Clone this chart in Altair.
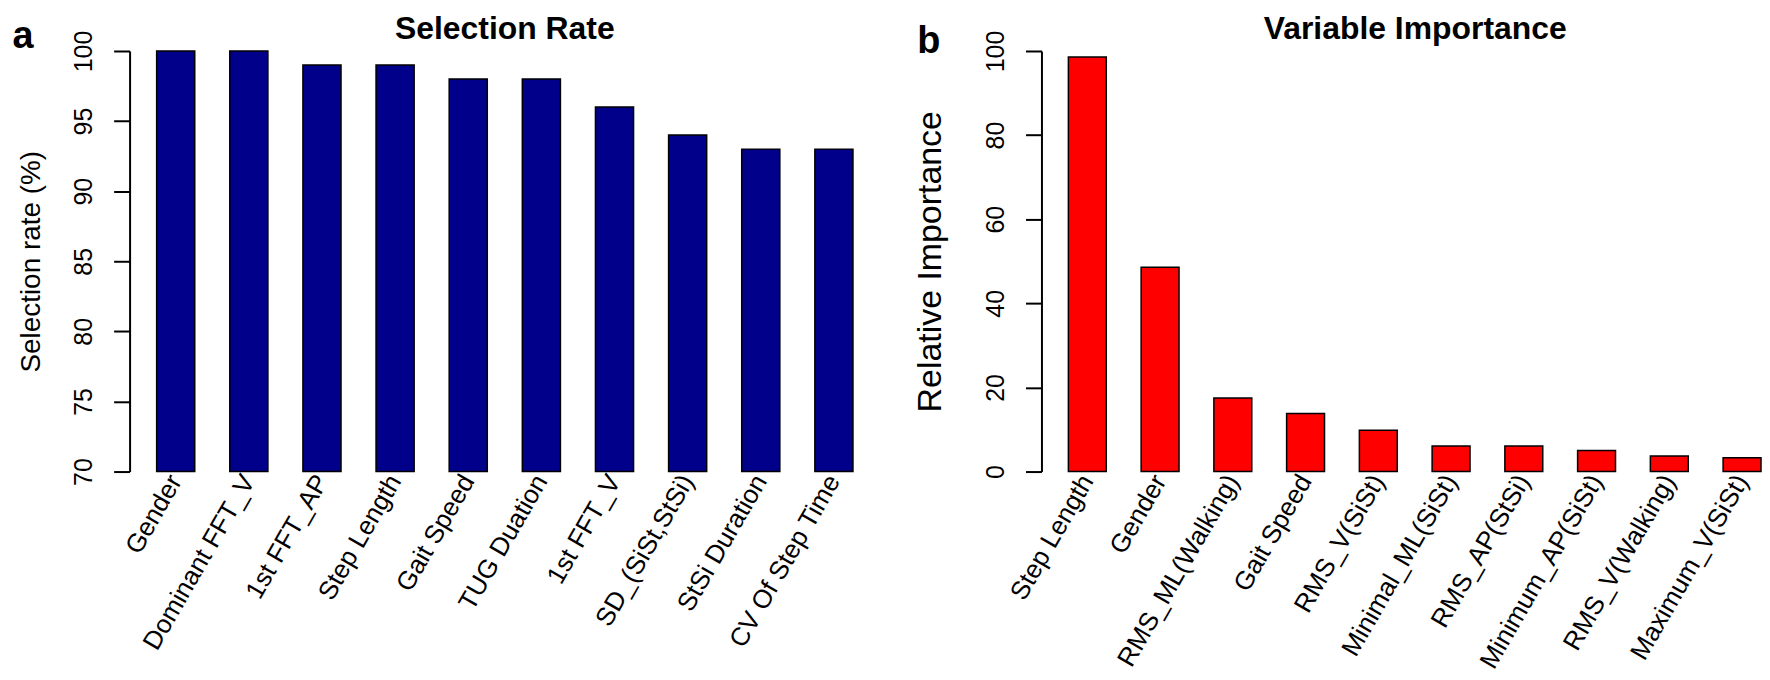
import altair as alt
import pandas as pd

# ---- data ----
cats_a = ["Gender", "Dominant FFT_V", "1st FFT_AP", "Step Length", "Gait Speed",
          "TUG Duation", "1st FFT_V", "SD_(SiSt,StSi)", "StSi Duration", "CV Of Step Time"]
vals_a = [100, 100, 99, 99, 98, 98, 96, 94, 93, 93]

cats_b = ["Step Length", "Gender", "RMS_ML(Walking)", "Gait Speed", "RMS_V(SiSt)",
          "Minimal_ML(SiSt)", "RMS_AP(StSi)", "Minimum_AP(SiSt)", "RMS_V(Walking)", "Maximum_V(SiSt)"]
vals_b = [98.6, 48.6, 17.5, 13.8, 9.8, 6.1, 6.1, 5.0, 3.7, 3.3]

ticks_a = [70, 75, 80, 85, 90, 95, 100]
ticks_b = [0, 20, 40, 60, 80, 100]

FONT = "Liberation Sans"
W_A, W_B, H = 753, 722, 422

df_a = pd.DataFrame({"feature": cats_a, "rate": vals_a})
df_b = pd.DataFrame({"feature": cats_b, "imp": vals_b})


def x_axis():
    return alt.Axis(labelAngle=300, labelAlign="right", labelBaseline="middle",
                    labelPadding=5, labelFontSize=26, labelFont=FONT, labelColor="black",
                    ticks=False, domain=False, labelLimit=600, labelOverlap=False, title=None)


def y_axis(vals, title, title_size, title_x):
    return alt.Axis(values=vals, title=title, titleFontSize=title_size, titleFont=FONT,
                    titleFontWeight="normal", titleColor="black", titleAngle=270,
                    titleAlign="center", titleBaseline="alphabetic",
                    titleX=title_x, titleY=H / 2,
                    labelFontSize=25, labelFont=FONT, labelColor="black", labelAngle=270,
                    labelAlign="center", labelBaseline="alphabetic", labelPadding=22,
                    tickSize=16, tickWidth=2, tickColor="black",
                    domainWidth=2, domainColor="black", grid=False, labelFlush=False)


bars_a = alt.Chart(df_a).mark_bar(color="#00008B", stroke="black", strokeWidth=1.5).encode(
    x=alt.X("feature:N", sort=cats_a, axis=x_axis(),
            scale=alt.Scale(paddingInner=0.479, paddingOuter=0.37)),
    y=alt.Y("rate:Q", scale=alt.Scale(domain=[70, 100], zero=False, nice=False),
            axis=y_axis(ticks_a, "Selection rate (%)", 28, -90)),
    y2=alt.datum(70),
)

lab_a = alt.Chart(pd.DataFrame({"t": ["a"]})).mark_text(
    text="a", fontSize=38, fontWeight="bold", font=FONT, color="black",
    align="center", baseline="alphabetic").encode(x=alt.value(-107), y=alt.value(-3))

ttl_a = alt.Chart(pd.DataFrame({"t": ["Selection Rate"]})).mark_text(
    text="Selection Rate", fontSize=32, fontWeight="bold", font=FONT, color="black",
    align="center", baseline="alphabetic").encode(x=alt.value(W_A / 2), y=alt.value(-12))

panel_a = alt.layer(bars_a, lab_a, ttl_a).properties(width=W_A, height=H)

bars_b = alt.Chart(df_b).mark_bar(color="#FF0000", stroke="black", strokeWidth=1.5).encode(
    x=alt.X("feature:N", sort=cats_b, axis=x_axis(),
            scale=alt.Scale(paddingInner=0.479, paddingOuter=0.185, align=1)),
    y=alt.Y("imp:Q", scale=alt.Scale(domain=[0, 100], nice=False),
            axis=y_axis(ticks_b, "Relative Importance", 34, -101)),
)

lab_b = alt.Chart(pd.DataFrame({"t": ["b"]})).mark_text(
    text="b", fontSize=38, fontWeight="bold", font=FONT, color="black",
    align="center", baseline="alphabetic").encode(x=alt.value(-113), y=alt.value(2))

ttl_b = alt.Chart(pd.DataFrame({"t": ["Variable Importance"]})).mark_text(
    text="Variable Importance", fontSize=32, fontWeight="bold", font=FONT, color="black",
    align="center", baseline="alphabetic").encode(x=alt.value(375), y=alt.value(-12))

panel_b = alt.layer(bars_b, lab_b, ttl_b).properties(width=W_B, height=H)

chart = alt.hconcat(panel_a, panel_b, spacing=162, bounds="flush").properties(
    padding={"left": 4, "top": 4, "right": 0, "bottom": 0},
    background="white",
).configure_view(strokeWidth=0, stroke="transparent")

chart.save("out.html", embed_options={"renderer": "svg", "actions": False})
